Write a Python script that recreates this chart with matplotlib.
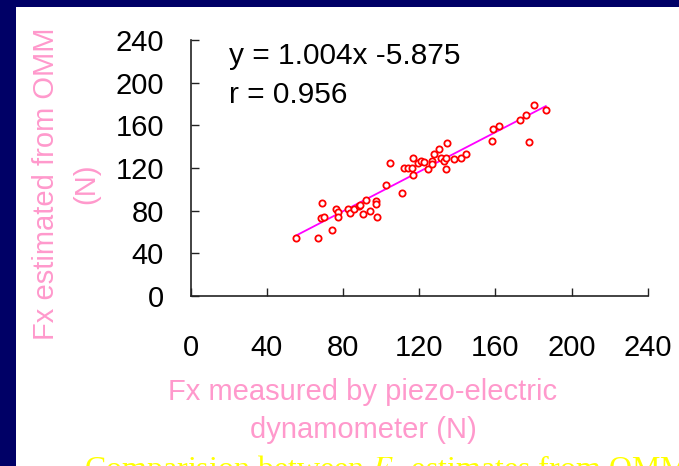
import numpy as np
import matplotlib
matplotlib.use("Agg")
import matplotlib.pyplot as plt
from matplotlib.patches import Rectangle

# ---------------- DATA ----------------
fx_measured = [55.2, 67.1, 74.4, 69.2, 68.3, 70.1, 76.4, 77.3, 77.4, 82.5,
               83.8, 85.9, 88.2, 89.2, 90.7, 92.0, 94.2, 97.2, 97.2, 98.0,
               102.4, 111.2, 104.6, 111.9, 114.0, 116.1, 117.0, 117.0, 119.3, 120.8,
               122.4, 124.5, 126.6, 126.8, 128.0, 130.4, 131.7, 132.9, 134.0, 134.1,
               134.8, 138.5, 142.1, 144.4, 159.0, 161.9, 158.3, 173.0, 176.0, 180.3,
               177.5, 186.5]
fx_omm = [54.1, 54.6, 62.1, 87.2, 72.8, 74.3, 81.8, 79.2, 74.3, 82.0,
          78.1, 82.0, 84.5, 85.1, 76.7, 90.0, 79.5, 89.0, 86.7, 74.2,
          104.5, 96.7, 124.4, 120.2, 120.2, 120.2, 129.3, 113.7, 124.4, 126.8,
          125.3, 118.7, 126.8, 123.4, 133.3, 137.5, 129.3, 126.8, 129.3, 118.7,
          143.9, 128.1, 129.3, 133.3, 156.8, 159.6, 145.3, 164.9, 169.9, 179.3,
          144.0, 174.3]
ticks = [0, 40, 80, 120, 160, 200, 240]
eq_text = "y = 1.004x -5.875"
r_text = "r = 0.956"

navy = "#000066"
pink = "#FF99CC"

plt.rcParams["mathtext.fontset"] = "stix"

fig = plt.figure(figsize=(6.79, 4.66), dpi=100)
fig.patch.set_facecolor(navy)
W, H = 679, 466
fig.patches.append(Rectangle((16 / W, 0), 1, 1 - 7 / H, transform=fig.transFigure,
                             facecolor="white", edgecolor="none", zorder=-5))

ax = fig.add_axes([190.5 / W, 170 / H, 457.2 / W, 256 / H])
ax.set_facecolor("none")
ax.set_zorder(2)

x = np.array(fx_measured)
y = np.array(fx_omm)
slope, icpt = np.polyfit(x, y, 1)
xl = np.array([x.min(), x.max()])
ax.plot(xl, slope * xl + icpt, color="#FF00FF", lw=1.3, zorder=2)
ax.plot(x, y, "o", ms=4.5, mfc="white", mec="red", mew=1.3, zorder=3, clip_on=False)

ax.set_xlim(0, 240)
ax.set_ylim(0, 240)
ax.set_xticks(ticks)
ax.set_yticks(ticks)
for s in ["top", "right"]:
    ax.spines[s].set_visible(False)
for s in ["left", "bottom"]:
    ax.spines[s].set_linewidth(1.2)
    ax.spines[s].set_color("#222222")
ax.tick_params(direction="in", length=6, width=1.0, color="#222222",
               labelsize=21, labelcolor="black")
ax.tick_params(axis="x", pad=27)
ax.tick_params(axis="y", pad=19)
for lab in ax.get_xticklabels() + ax.get_yticklabels():
    lab.set_family("Liberation Sans")

ax.text(20, 225, eq_text, fontsize=21.5, family="Liberation Sans", va="center")
ax.text(20, 188, r_text, fontsize=21.5, family="Liberation Sans", va="center")

fig.text(363 / W, 1 - 411 / H, "Fx measured by piezo-electric\ndynamometer (N)",
         ha="center", va="center", fontsize=21, color=pink,
         family="Liberation Sans", linespacing=1.5)
fig.text(66 / W, 1 - 184 / H, "Fx estimated from OMM\n(N)", rotation=90,
         ha="center", va="center", fontsize=21, color=pink,
         family="Liberation Sans", linespacing=1.55)

fig.text(84 / W, -12 / H, "Comparision between $F_x$ estimates from OMM",
         ha="left", va="baseline", fontsize=23, color="yellow",
         family="Liberation Serif")

plt.savefig("out.png", dpi=100, facecolor=fig.get_facecolor())
